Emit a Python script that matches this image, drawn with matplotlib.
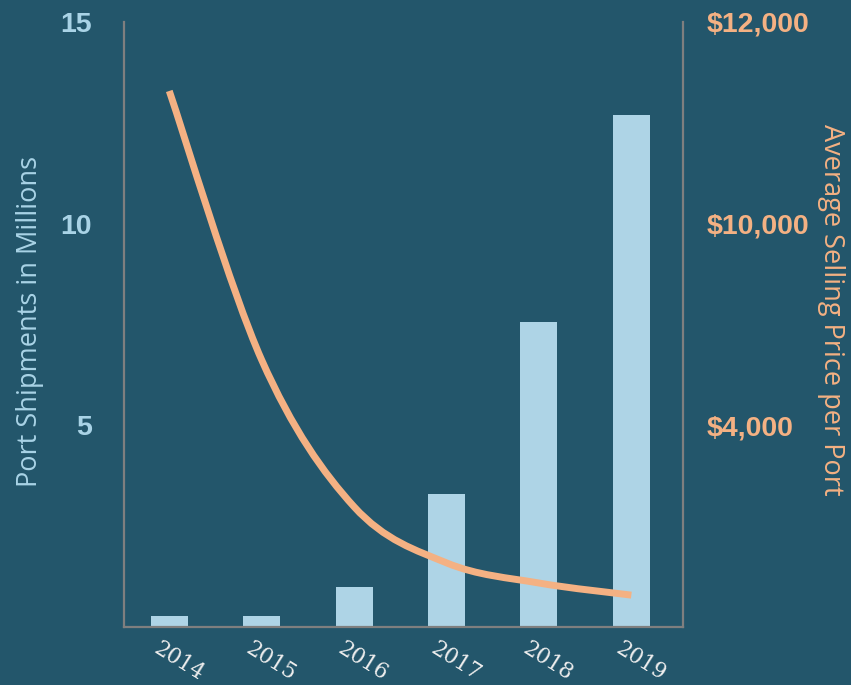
"""Port shipments vs. average selling price per port, 2014-2019."""

import matplotlib
matplotlib.use("Agg")
import matplotlib.pyplot as plt
from matplotlib.path import Path
from matplotlib.patches import PathPatch

years = ["2014", "2015", "2016", "2017", "2018", "2019"]
shipments_millions = [0.27, 0.27, 1.0, 3.3, 7.57, 12.7]
price_level = [13.29, 6.62, 2.98, 1.59, 1.09, 0.79]
left_ticks = [5, 10, 15]
right_tick_labels = ["$4,000", "$10,000", "$12,000"]

BG = "#23566b"
BAR = "#aed4e6"
ORANGE = "#f4b183"
SPINE = "#7f7f7f"


def smooth_path(xs, ys):
    # Catmull-Rom style bezier through the data points
    verts = [(xs[0], ys[0])]
    codes = [Path.MOVETO]
    n = len(xs)
    for i in range(n - 1):
        x0, y0 = (xs[i - 1], ys[i - 1]) if i > 0 else (xs[i], ys[i])
        x1, y1 = xs[i], ys[i]
        x2, y2 = xs[i + 1], ys[i + 1]
        x3, y3 = (xs[i + 2], ys[i + 2]) if i + 2 < n else (xs[i + 1], ys[i + 1])
        c1 = (x1 + (x2 - x0) / 6, y1 + (y2 - y0) / 6)
        c2 = (x2 - (x3 - x1) / 6, y2 - (y3 - y1) / 6)
        verts += [c1, c2, (x2, y2)]
        codes += [Path.CURVE4] * 3
    return Path(verts, codes)


def main() -> None:
    fig = plt.figure(figsize=(8.51, 6.85), dpi=100, facecolor=BG)
    ax = fig.add_axes([0.1457, 0.0847, 0.657, 0.8832], facecolor=BG)
    x = list(range(len(years)))

    ax.bar(x, shipments_millions, width=0.40, color=BAR, zorder=2)
    ax.set_xlim(-0.49, 5.56)
    ax.set_ylim(0, 15)
    ax.set_yticks(left_ticks)
    ax.set_yticklabels([str(t) for t in left_ticks])
    ax.tick_params(axis="y", length=0, pad=23, labelcolor="#a9d3e6",
                   labelsize=20.5)
    for lbl in ax.get_yticklabels():
        lbl.set_fontweight("bold")
        lbl.set_family("Liberation Sans")

    ax.set_xticks(x)
    ax.set_xticklabels(years, family="DejaVu Serif", fontsize=15.5,
                       color="#eeeeee", rotation=-32, ha="left", va="center",
                       rotation_mode="anchor")
    ax.tick_params(axis="x", length=0, pad=14)

    for side in ["top", "right"]:
        ax.spines[side].set_visible(False)
    for side in ["left", "bottom"]:
        ax.spines[side].set_color(SPINE)
        ax.spines[side].set_linewidth(1.6)

    ax.set_ylabel("Port Shipments in Millions", family="Open Sans",
                  fontsize=19.5, color="#a9d3e6", va="center")
    ax.yaxis.set_label_coords(-0.168, 0.505)

    ax2 = ax.twinx()
    ax2.set_ylim(0, 15)
    ax2.set_yticks(left_ticks)
    ax2.set_yticklabels(right_tick_labels)
    ax2.tick_params(axis="y", length=0, pad=17, labelcolor=ORANGE,
                    labelsize=20.5)
    for lbl in ax2.get_yticklabels():
        lbl.set_fontweight("bold")
        lbl.set_family("Liberation Sans")
    for side in ["top", "left", "bottom"]:
        ax2.spines[side].set_visible(False)
    ax2.spines["right"].set_color(SPINE)
    ax2.spines["right"].set_linewidth(1.6)

    curve = PathPatch(smooth_path(x, price_level), facecolor="none",
                      edgecolor=ORANGE, linewidth=5, capstyle="butt", zorder=3)
    ax2.add_patch(curve)

    ax2.set_ylabel("Average Selling Price per Port", family="Open Sans",
                   fontsize=19.5, color=ORANGE, rotation=270, va="center")
    ax2.yaxis.set_label_coords(1.265, 0.524)

    # nudge the rotated year labels left so they start under each bar
    offset = matplotlib.transforms.ScaledTranslation(-10 / 72, 0,
                                                     fig.dpi_scale_trans)
    for lbl in ax.get_xticklabels():
        lbl.set_transform(lbl.get_transform() + offset)

    fig.savefig("out.png", dpi=100, facecolor=BG)
    plt.close(fig)


if __name__ == "__main__":
    main()
